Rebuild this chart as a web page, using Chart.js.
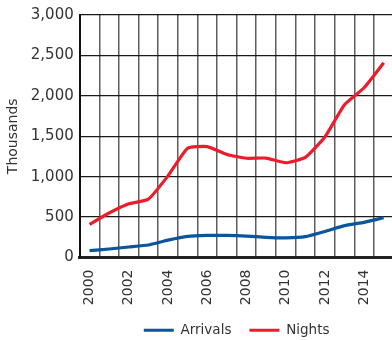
<!DOCTYPE html>
<html>
<head>
<meta charset="utf-8">
<script src="https://cdn.jsdelivr.net/npm/chart.js@4"></script>
<style>
  html, body { margin: 0; padding: 0; background: #fff; overflow: hidden; }
  .wrap { position: relative; width: 395px; height: 340px; }
</style>
</head>
<body>
<div class="wrap"><canvas id="tourism"></canvas></div>
<script>
const years = ['2000', '2001', '2002', '2003', '2004', '2005', '2006', '2007',
  '2008', '2009', '2010', '2011', '2012', '2013', '2014', '2015'];
// thousands
const arrivals = [85, 105, 130, 155, 215, 262, 273, 273, 265, 250, 244, 258, 322, 395, 435, 492];
const nights = [410, 550, 664, 722, 1010, 1352, 1372, 1275, 1228, 1230, 1172, 1238, 1490, 1890, 2100, 2408];
const yTicks = [0, 500, 1000, 1500, 2000, 2500, 3000];

const family = 'DejaVu Sans';

// vertical year labels under the x axis, every second year
const yearLabels = {
  id: 'yearLabels',
  afterDraw(chart) {
    const { ctx } = chart;
    const x = chart.scales.x;
    ctx.save();
    ctx.font = '14px "' + family + '"';
    ctx.fillStyle = '#333';
    ctx.textAlign = 'right';
    ctx.textBaseline = 'middle';
    years.forEach((yr, i) => {
      if (i % 2) return;
      ctx.save();
      ctx.translate(x.getPixelForValue(i), x.top + 12);
      ctx.rotate(-Math.PI / 2);
      ctx.fillText(yr, 0, 0);
      ctx.restore();
    });
    ctx.restore();
  }
};

const ctx = document.getElementById('tourism').getContext('2d');
const chart = new Chart(ctx, {
  type: 'line',
  data: {
    labels: years,
    datasets: [
      {
        label: 'Arrivals',
        data: arrivals,
        borderColor: '#0a559c',
        backgroundColor: '#0a559c',
        borderWidth: 3.2,
        pointRadius: 0,
        tension: 0.15
      },
      {
        label: 'Nights',
        data: nights,
        borderColor: '#ec1c2a',
        backgroundColor: '#ec1c2a',
        borderWidth: 3.2,
        pointRadius: 0,
        tension: 0.15
      }
    ]
  },
  plugins: [yearLabels],
  options: {
    responsive: true,
    maintainAspectRatio: false,
    animation: false,
    layout: { padding: { top: 15, left: 2, right: 1.5, bottom: -7 } },
    plugins: {
      tooltip: { enabled: false },
      legend: {
        position: 'bottom',
        fullSize: false,
        labels: {
          usePointStyle: true,
          pointStyle: 'line',
          pointStyleWidth: 30,
          color: '#333',
          font: { family, size: 13.5 },
          padding: 18
        }
      }
    },
    scales: {
      x: {
        offset: true,
        grid: { offset: true, color: '#5e5e5e', lineWidth: 1.5, drawTicks: false },
        border: { color: '#222', width: 3 },
        ticks: { display: false },
        afterFit: axis => { axis.height = 48; }
      },
      y: {
        min: 0,
        max: 3000,
        afterBuildTicks: axis => { axis.ticks = yTicks.map(v => ({ value: v })); },
        grid: { color: '#1a1a1a', lineWidth: 1.3, drawTicks: false },
        border: { color: '#111', width: 2 },
        title: { display: true, text: 'Thousands', color: '#333', font: { family, size: 14 }, padding: 3 },
        ticks: {
          color: '#333',
          font: { family, size: 15 },
          padding: 6,
          callback: v => v.toLocaleString('en-US')
        }
      }
    }
  }
});
</script>
</body>
</html>
